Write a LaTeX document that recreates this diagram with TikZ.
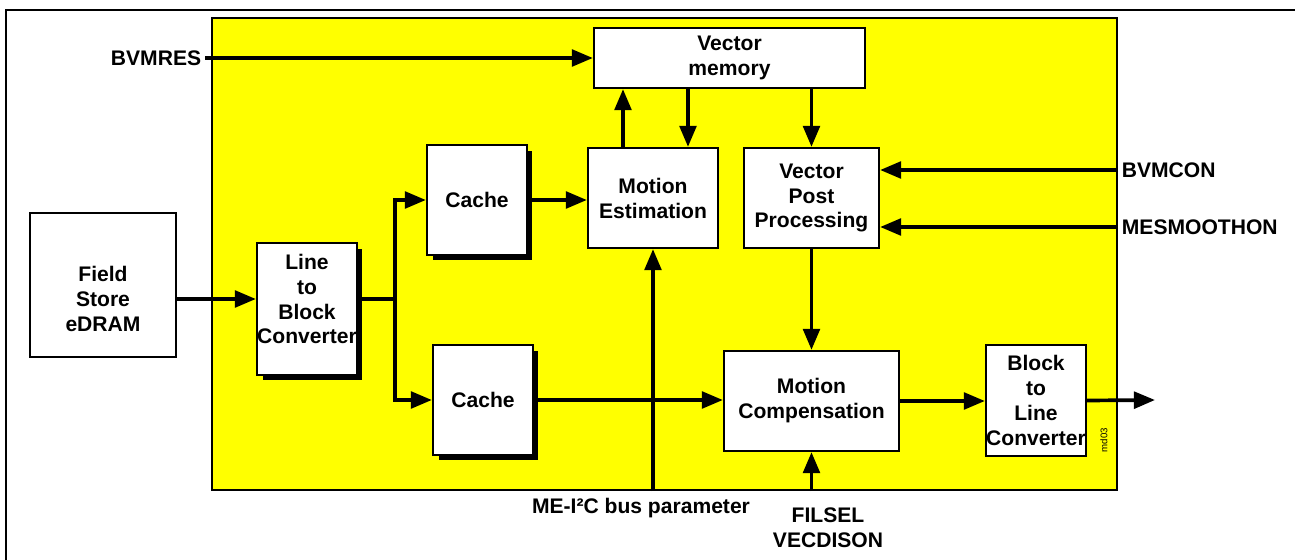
\documentclass[tikz,border=0pt]{standalone}
\usepackage{fontspec}
\setmainfont{Liberation Sans}
\usepackage{tikz}
\usetikzlibrary{calc,positioning,arrows.meta,shadows}
\usepackage{xcolor}
\definecolor{coreyellow}{RGB}{255,255,0}
\newcommand{\blkfont}{\fontsize{12}{14.2}\selectfont\bfseries}

\begin{document}
\begin{tikzpicture}[x=0.02cm, y=-0.02cm, >=Triangle,
    blk/.style={draw, line width=1.3pt, fill=white, align=center, font=\blkfont, inner sep=0pt},
    shd/.style={drop shadow={fill=black, opacity=1, shadow xshift=0.11cm, shadow yshift=-0.11cm}},
    wire/.style={line width=2.1pt},
    sig/.style={line width=2.1pt, -{Triangle[length=12pt, width=9.5pt]}},
    sigtxt/.style={font=\blkfont, align=center, inner sep=2pt}]
  \useasboundingbox (0,0) rectangle (1295,560);
  % Frame and core area
  \draw[line width=1.2pt] (1300,10) -- (6,10) -- (6,565);
  \node[draw, line width=1.3pt, fill=coreyellow, minimum width=18.1cm, minimum height=9.44cm] (core) at (664.5,254) {};
  % Blocks
  \node[blk, minimum width=2.92cm, minimum height=2.88cm,
        label={[name=fstxt, font=\blkfont, align=center, yshift=-0.28cm]center:Field\\Store\\eDRAM}] (fs) at (103,285) {};
  \node[blk, shd, minimum width=2cm, minimum height=2.64cm,
        label={[name=lbtxt, font=\blkfont, align=center, yshift=0.2cm]center:Line\\to\\Block\\Converter}] (ltob) at (307,309) {};
  \node[blk, shd, minimum width=2cm, minimum height=2.2cm] (cacheA) at (477,200) {Cache};
  \node[blk, shd, minimum width=2cm, minimum height=2.2cm] (cacheB) at (483,400) {Cache};
  \node[blk, minimum width=2.6cm, minimum height=2cm] (motest) at (653,198) {Motion\\Estimation};
  \node[blk, minimum width=5.42cm, minimum height=1.2cm] (vecmem) at (729.5,58) {Vector\\memory};
  \node[blk, minimum width=2.7cm, minimum height=2cm] (vpp) at (811.5,198) {Vector\\Post\\Processing};
  \node[blk, minimum width=3.5cm, minimum height=2cm] (motcomp) at (811.5,401) {Motion\\Compensation};
  \node[blk, minimum width=2cm, minimum height=2.22cm] (btol) at (1036,400.5) {Block\\to\\Line\\Converter};
  \node[rotate=90, font=\fontsize{5.5}{6}\selectfont, inner sep=0pt] (tag) at (1104,440) {md03};
  % Signal names
  \node[sigtxt, anchor=east] (bvmres) at (205,58) {BVMRES};
  \node[sigtxt, anchor=west] (bvmcon) at (1118,170) {BVMCON};
  \node[sigtxt, anchor=west] (mesmooth) at (1118,227) {MESMOOTHON};
  \node[sigtxt] (busparam) at (641,508) {ME-I²C bus parameter};
  \node[sigtxt] (filsel) at (828,528) {FILSEL\\VECDISON};
  \coordinate (split) at (395,299);
  \coordinate (out) at (1155,400);
  % Data path
  \draw[sig] (fstxt -| fs.east) -- (fstxt -| ltob.west);
  \draw[wire] (lbtxt -| ltob.east) -- (split);
  \draw[sig] (split) |- (cacheA.west);
  \draw[sig] (split) |- (cacheB.west);
  \draw[sig] (cacheA.east) -- (cacheA.east -| motest.west);
  \draw[sig] (cacheB.east) -- (cacheB.east -| motcomp.west);
  \draw[sig] (motcomp.east) -- (motcomp.east -| btol.west);
  \draw[sig] (btol.east) -- (out);
  % Vector path
  \draw[sig] ([xshift=-0.6cm]motest.north) -- ([xshift=-0.6cm]motest.north |- vecmem.south);
  \draw[sig] ([xshift=0.7cm]motest.north |- vecmem.south) -- ([xshift=0.7cm]motest.north);
  \draw[sig] (vpp.north |- vecmem.south) -- (vpp.north);
  \draw[sig] (vpp.south) -- (motcomp.north);
  % Control inputs
  \draw[sig] (bvmres.east) -- (bvmres.east -| vecmem.west);
  \draw[sig] (bvmcon.west) -- (bvmcon.west -| vpp.east);
  \draw[sig] (mesmooth.west) -- (mesmooth.west -| vpp.east);
  \draw[sig] (core.south -| motest.south) -- (motest.south);
  \draw[sig] (core.south -| motcomp.south) -- (motcomp.south);
\end{tikzpicture}
\end{document}
